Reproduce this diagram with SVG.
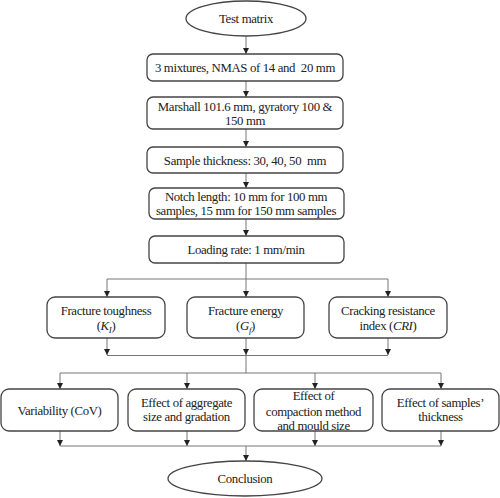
<svg xmlns="http://www.w3.org/2000/svg" width="500" height="498" viewBox="0 0 500 498">
<defs>
<marker id="ah" viewBox="0 0 10 10" refX="10" refY="5" markerWidth="6" markerHeight="6" markerUnits="userSpaceOnUse" orient="auto">
<path d="M0,0 L10,5 L0,10 Z" fill="#222"/>
</marker>
<style>
.box{fill:#fff;stroke:#444;stroke-width:1.3}
.t{font-family:"Liberation Serif","Times New Roman",serif;font-size:12.8px;letter-spacing:-0.35px;fill:#222;text-anchor:middle}
.c{fill:none;stroke:#777;stroke-width:1}
.a{fill:none;stroke:#777;stroke-width:1;marker-end:url(#ah)}
</style>
</defs>
<rect width="500" height="498" fill="#fff"/>
<g id="connectors">
<line class="a" x1="246" y1="36" x2="246" y2="54"/>
<line class="a" x1="246" y1="81" x2="246" y2="97"/>
<line class="a" x1="246" y1="129" x2="246" y2="147"/>
<line class="a" x1="246" y1="173" x2="246" y2="188"/>
<line class="a" x1="246" y1="219" x2="246" y2="236"/>
<line class="c" x1="246" y1="263" x2="246" y2="279"/>
<line class="c" x1="107" y1="279" x2="388" y2="279"/>
<line class="a" x1="107" y1="279" x2="107" y2="297"/>
<line class="a" x1="246" y1="279" x2="246" y2="297"/>
<line class="a" x1="388" y1="279" x2="388" y2="297"/>
<line class="a" x1="107" y1="338" x2="107" y2="355"/>
<line class="a" x1="246" y1="338" x2="246" y2="355"/>
<line class="a" x1="388" y1="338" x2="388" y2="355"/>
<line class="c" x1="107" y1="355.5" x2="388" y2="355.5"/>
<line class="c" x1="246" y1="355" x2="246" y2="373"/>
<line class="c" x1="60" y1="373" x2="441" y2="373"/>
<line class="a" x1="60" y1="373" x2="60" y2="389"/>
<line class="a" x1="187" y1="373" x2="187" y2="389"/>
<line class="a" x1="315" y1="373" x2="315" y2="389"/>
<line class="a" x1="441" y1="373" x2="441" y2="389"/>
<line class="a" x1="60" y1="431" x2="60" y2="446"/>
<line class="a" x1="187" y1="431" x2="187" y2="446"/>
<line class="a" x1="315" y1="431" x2="315" y2="446"/>
<line class="a" x1="441" y1="431" x2="441" y2="446"/>
<line class="c" x1="60" y1="446" x2="441" y2="446"/>
<line class="a" x1="246" y1="446" x2="246" y2="461"/>
</g>
<g id="test-matrix">
<ellipse class="box" cx="246" cy="18.5" rx="60" ry="17.5"/>
<text class="t" x="246" y="23">Test matrix</text>
</g>
<g id="mixtures">
<rect class="box" x="147" y="54" width="196" height="27" rx="6"/>
<text class="t" x="245" y="72" xml:space="preserve">3 mixtures, NMAS of 14 and  20 mm</text>
</g>
<g id="marshall">
<rect class="box" x="147" y="97" width="196" height="32" rx="6"/>
<text class="t" x="245" y="111">Marshall 101.6 mm, gyratory 100 &amp;</text>
<text class="t" x="245" y="125">150 mm</text>
</g>
<g id="thickness">
<rect class="box" x="147" y="147" width="196" height="26" rx="6"/>
<text class="t" x="245" y="165" xml:space="preserve">Sample thickness: 30, 40, 50  mm</text>
</g>
<g id="notch">
<rect class="box" x="149" y="188" width="195" height="31" rx="6"/>
<text class="t" x="246" y="201">Notch length: 10 mm for 100 mm</text>
<text class="t" x="246" y="215">samples, 15 mm for 150 mm samples</text>
</g>
<g id="loading">
<rect class="box" x="149" y="236" width="195" height="27" rx="6"/>
<text class="t" x="246" y="254">Loading rate: 1 mm/min</text>
</g>
<g id="fracture-toughness">
<rect class="box" x="47" y="297" width="118" height="41" rx="8"/>
<text class="t" x="106" y="315">Fracture toughness</text>
<text class="t" x="106" y="330">(<tspan font-style="italic">K</tspan><tspan font-style="italic" font-size="9" dy="3">I</tspan><tspan dy="-3">)</tspan></text>
</g>
<g id="fracture-energy">
<rect class="box" x="187" y="297" width="117" height="41" rx="8"/>
<text class="t" x="245.5" y="315">Fracture energy</text>
<text class="t" x="245.5" y="330">(<tspan font-style="italic">G</tspan><tspan font-style="italic" font-size="9" dy="3">f</tspan><tspan dy="-3">)</tspan></text>
</g>
<g id="cri">
<rect class="box" x="329" y="297" width="118" height="41" rx="8"/>
<text class="t" x="388" y="315">Cracking resistance</text>
<text class="t" x="388" y="330">index (<tspan font-style="italic">CRI</tspan>)</text>
</g>
<g id="variability">
<rect class="box" x="1" y="389" width="117" height="42" rx="8"/>
<text class="t" x="59.5" y="415">Variability (CoV)</text>
</g>
<g id="aggregate">
<rect class="box" x="128" y="389" width="117" height="42" rx="8"/>
<text class="t" x="186.5" y="407">Effect of aggregate</text>
<text class="t" x="186.5" y="421">size and gradation</text>
</g>
<g id="compaction">
<rect class="box" x="254" y="389" width="119" height="42" rx="8"/>
<text class="t" x="313.5" y="400">Effect of</text>
<text class="t" x="313.5" y="416">compaction method</text>
<text class="t" x="313.5" y="430">and mould size</text>
</g>
<g id="samples-thickness">
<rect class="box" x="382" y="389" width="117" height="42" rx="8"/>
<text class="t" x="440.5" y="407">Effect of samples’</text>
<text class="t" x="440.5" y="421">thickness</text>
</g>
<g id="conclusion">
<ellipse class="box" cx="245" cy="478.5" rx="77" ry="17.5"/>
<text class="t" x="245" y="483">Conclusion</text>
</g>
</svg>
